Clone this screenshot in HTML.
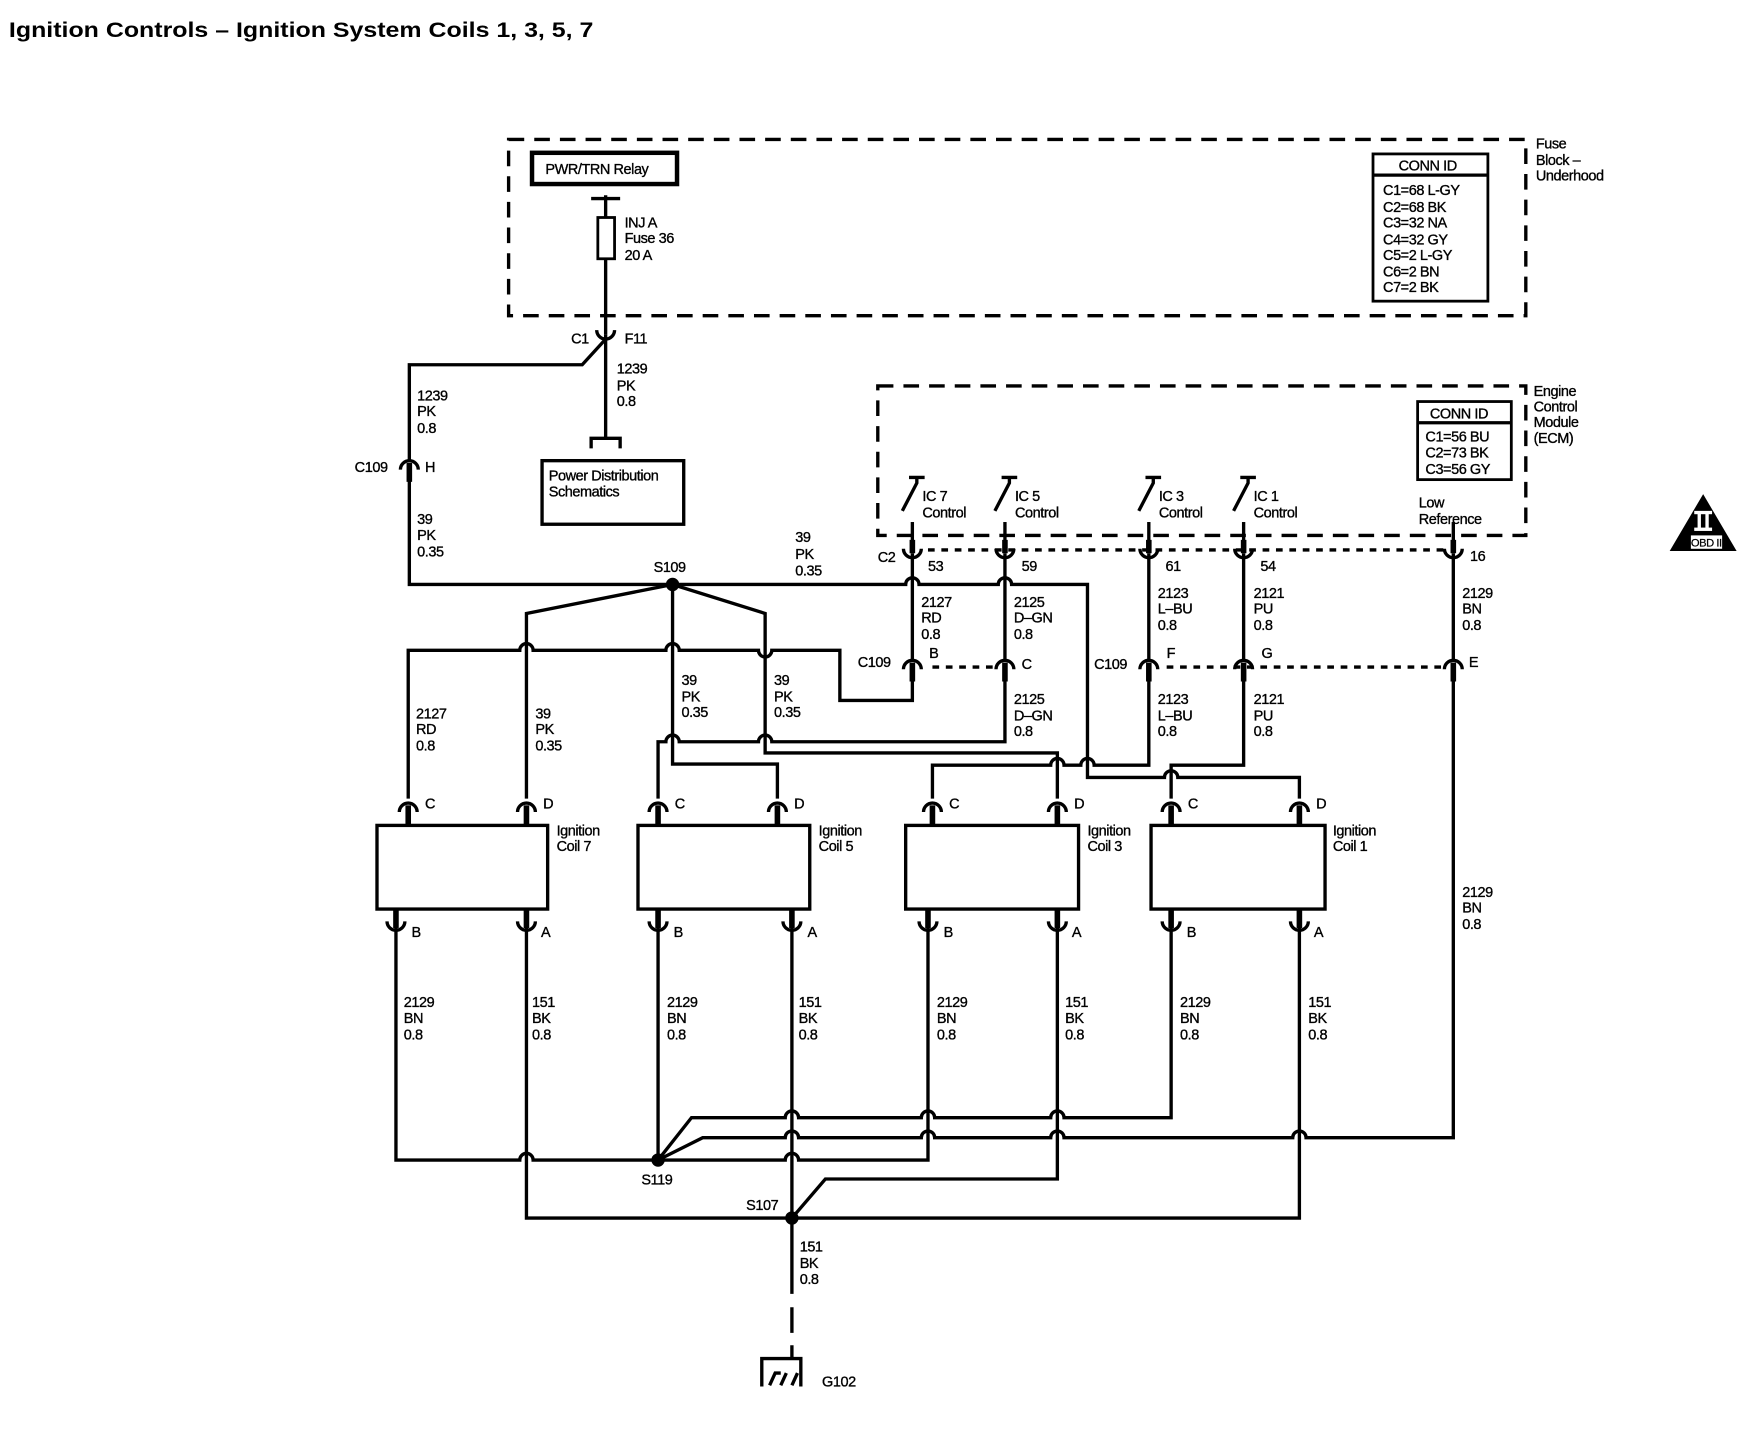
<!DOCTYPE html>
<html><head><meta charset="utf-8"><style>
html,body{margin:0;padding:0;background:#fff}
svg{display:block}
text{font-family:"Liberation Sans",Arial,sans-serif;font-size:13px;fill:#000;stroke:#000;stroke-width:0.3;letter-spacing:-0.4px}
.w{fill:none;stroke:#000;stroke-width:3;stroke-linejoin:miter}
.t{fill:none;stroke:#000;stroke-width:3}
.d{fill:none;stroke:#000;stroke-width:3;stroke-dasharray:14,9}
.o{fill:none;stroke:#000;stroke-width:3;stroke-dasharray:6,6}
</style></head><body>
<svg width="1750" height="1440" viewBox="0 0 1569 1291" preserveAspectRatio="none" xmlns="http://www.w3.org/2000/svg">
<defs>
<g id="cap"><path d="M-8,6 A8,8 0 0 1 8,6" class="t"/><rect x="-2.5" y="0" width="5" height="17"/></g>
<g id="cup"><path d="M-8,-6 A8,8 0 0 0 8,-6" class="t"/><rect x="-2.5" y="-16" width="5" height="16"/></g>
<g id="pin"><path d="M-8,-6 A8,8 0 0 0 8,-6" class="t"/><rect x="-2.5" y="-14" width="5" height="12"/><path d="M0,-30 V-10" class="t"/></g>
<g id="sw"><path d="M-7,0 H7 M0,0 V5 L-13,30" class="t"/></g>
</defs>
<text x="8" y="33" textLength="524" lengthAdjust="spacingAndGlyphs" style="font-size:19px;font-weight:bold;stroke-width:0;letter-spacing:0">Ignition Controls – Ignition System Coils 1, 3, 5, 7</text>

<!-- Fuse block -->
<rect x="456" y="125" width="912" height="158" class="d"/>
<text x="1377" y="133">Fuse</text><text x="1377" y="148">Block –</text><text x="1377" y="162">Underhood</text>
<rect x="477" y="137" width="130" height="28" fill="#fff" stroke="#000" stroke-width="4"/>
<text x="489" y="156">PWR/TRN Relay</text>
<path d="M543,175 V300 M530,178 H556" class="w"/>
<rect x="536" y="195" width="15" height="37" fill="#fff" stroke="#000" stroke-width="2.5"/>
<text x="560" y="204">INJ A</text><text x="560" y="218">Fuse 36</text><text x="560" y="233">20 A</text>
<rect x="1231" y="138" width="103" height="132" fill="#fff" stroke="#000" stroke-width="2.5"/>
<path d="M1231,157 H1334" class="t"/>
<text x="1254" y="153">CONN ID</text>
<text x="1240" y="175">C1=68 L-GY</text><text x="1240" y="190">C2=68 BK</text><text x="1240" y="204">C3=32 NA</text>
<text x="1240" y="219">C4=32 GY</text><text x="1240" y="233">C5=2 L-GY</text><text x="1240" y="248">C6=2 BN</text><text x="1240" y="262">C7=2 BK</text>

<path d="M535,296 A8,8 0 0 0 551,296" class="t"/>
<text x="512" y="308">C1</text><text x="560" y="308">F11</text>
<path d="M543,300 V393 M530,402 V393 H556 V402" class="w"/>
<text x="553" y="335">1239</text><text x="553" y="350">PK</text><text x="553" y="364">0.8</text>
<rect x="486" y="413" width="127" height="57" fill="#fff" stroke="#000" stroke-width="3"/>
<text x="492" y="431">Power Distribution</text><text x="492" y="445">Schematics</text>

<path d="M543,304 L522,327 H367 V413" class="w"/>
<text x="374" y="359">1239</text><text x="374" y="373">PK</text><text x="374" y="388">0.8</text>
<use href="#cap" x="367" y="415"/>
<text x="318" y="423">C109</text><text x="381" y="423">H</text>
<text x="374" y="470">39</text><text x="374" y="484">PK</text><text x="374" y="499">0.35</text>
<path d="M367,430 V524 H812 A6,6 0 0 1 824,524 H895 A6,6 0 0 1 907,524 H975 V697 H1044 A6,6 0 0 1 1056,697 H1165 V716" class="w"/>
<text x="713" y="486">39</text><text x="713" y="501">PK</text><text x="713" y="516">0.35</text>
<circle cx="603" cy="524" r="6"/>
<text x="586" y="513">S109</text>
<path d="M603,524 L472,550 V716 M603,524 L686,550 V675 H948 V716 M603,524 V685 H697 V716" class="w"/>

<!-- ECM -->
<rect x="787" y="346" width="581" height="134" class="d"/>
<text x="1375" y="355">Engine</text><text x="1375" y="369">Control</text><text x="1375" y="383">Module</text><text x="1375" y="397">(ECM)</text>
<rect x="1271" y="360" width="84" height="70" fill="#fff" stroke="#000" stroke-width="2.5"/>
<path d="M1271,379 H1355" class="t"/>
<text x="1282" y="375">CONN ID</text>
<text x="1278" y="396">C1=56 BU</text><text x="1278" y="410">C2=73 BK</text><text x="1278" y="425">C3=56 GY</text>
<use href="#sw" x="822" y="428"/><use href="#sw" x="905" y="428"/><use href="#sw" x="1034" y="428"/><use href="#sw" x="1119" y="428"/>
<text x="827" y="449">IC 7</text><text x="827" y="464">Control</text>
<text x="910" y="449">IC 5</text><text x="910" y="464">Control</text>
<text x="1039" y="449">IC 3</text><text x="1039" y="464">Control</text>
<text x="1124" y="449">IC 1</text><text x="1124" y="464">Control</text>
<text x="1272" y="455">Low</text><text x="1272" y="470">Reference</text>
<use href="#pin" x="818" y="498"/><use href="#pin" x="901" y="498"/><use href="#pin" x="1030" y="498"/><use href="#pin" x="1115" y="498"/><use href="#pin" x="1303" y="498"/>
<path d="M832,493 H1295" class="o"/>
<text x="787" y="504">C2</text><text x="832" y="512">53</text><text x="916" y="512">59</text><text x="1045" y="512">61</text><text x="1130" y="512">54</text><text x="1318" y="503">16</text>

<path d="M818,496 V592 M901,496 V592 M1030,496 V592 M1115,496 V592 M1303,496 V592" class="w"/>
<text x="826" y="544">2127</text><text x="826" y="558">RD</text><text x="826" y="573">0.8</text>
<text x="909" y="544">2125</text><text x="909" y="558">D–GN</text><text x="909" y="573">0.8</text>
<text x="1038" y="536">2123</text><text x="1038" y="550">L–BU</text><text x="1038" y="565">0.8</text>
<text x="1124" y="536">2121</text><text x="1124" y="550">PU</text><text x="1124" y="565">0.8</text>
<text x="1311" y="536">2129</text><text x="1311" y="550">BN</text><text x="1311" y="565">0.8</text>
<use href="#cap" x="818" y="594"/><use href="#cap" x="901" y="594"/><use href="#cap" x="1030" y="594"/><use href="#cap" x="1115" y="594"/><use href="#cap" x="1303" y="594"/>
<path d="M836,598 H892 M1046,598 H1296" class="o"/>
<text x="769" y="598">C109</text><text x="833" y="590">B</text><text x="916" y="600">C</text>
<text x="981" y="600">C109</text><text x="1046" y="590">F</text><text x="1131" y="590">G</text><text x="1317" y="598">E</text>

<path d="M818,606 V628 H753 V583 H692 A6,6 0 0 1 680,583 H609 A6,6 0 0 0 597,583 H478 A6,6 0 0 0 466,583 H366 V716" class="w"/>
<path d="M901,606 V665 H692 A6,6 0 0 0 680,665 H609 A6,6 0 0 0 597,665 H590 V716" class="w"/>
<path d="M1030,606 V686 H981 A6,6 0 0 0 969,686 H954 A6,6 0 0 0 942,686 H836 V716" class="w"/>
<path d="M1115,606 V686 H1050 V716" class="w"/>
<text x="909" y="631">2125</text><text x="909" y="646">D–GN</text><text x="909" y="660">0.8</text>
<text x="1038" y="631">2123</text><text x="1038" y="646">L–BU</text><text x="1038" y="660">0.8</text>
<text x="1124" y="631">2121</text><text x="1124" y="646">PU</text><text x="1124" y="660">0.8</text>
<text x="373" y="644">2127</text><text x="373" y="658">RD</text><text x="373" y="673">0.8</text>
<text x="480" y="644">39</text><text x="480" y="658">PK</text><text x="480" y="673">0.35</text>
<text x="611" y="614">39</text><text x="611" y="629">PK</text><text x="611" y="643">0.35</text>
<text x="694" y="614">39</text><text x="694" y="629">PK</text><text x="694" y="643">0.35</text>

<!-- coils -->
<rect x="338" y="740" width="153" height="75" fill="#fff" stroke="#000" stroke-width="3"/>
<rect x="572" y="740" width="154" height="75" fill="#fff" stroke="#000" stroke-width="3"/>
<rect x="812" y="740" width="155" height="75" fill="#fff" stroke="#000" stroke-width="3"/>
<rect x="1032" y="740" width="156" height="75" fill="#fff" stroke="#000" stroke-width="3"/>
<text x="499" y="749">Ignition</text><text x="499" y="763">Coil 7</text>
<text x="734" y="749">Ignition</text><text x="734" y="763">Coil 5</text>
<text x="975" y="749">Ignition</text><text x="975" y="763">Coil 3</text>
<text x="1195" y="749">Ignition</text><text x="1195" y="763">Coil 1</text>
<use href="#cap" x="366" y="722"/><use href="#cap" x="472" y="722"/><use href="#cap" x="590" y="722"/><use href="#cap" x="697" y="722"/>
<use href="#cap" x="836" y="722"/><use href="#cap" x="948" y="722"/><use href="#cap" x="1050" y="722"/><use href="#cap" x="1165" y="722"/>
<text x="381" y="725">C</text><text x="487" y="725">D</text><text x="605" y="725">C</text><text x="712" y="725">D</text>
<text x="851" y="725">C</text><text x="963" y="725">D</text><text x="1065" y="725">C</text><text x="1180" y="725">D</text>
<use href="#cup" x="355" y="832"/><use href="#cup" x="472" y="832"/><use href="#cup" x="590" y="832"/><use href="#cup" x="710" y="832"/>
<use href="#cup" x="832" y="832"/><use href="#cup" x="948" y="832"/><use href="#cup" x="1050" y="832"/><use href="#cup" x="1165" y="832"/>
<text x="369" y="840">B</text><text x="485" y="840">A</text><text x="604" y="840">B</text><text x="724" y="840">A</text>
<text x="846" y="840">B</text><text x="961" y="840">A</text><text x="1064" y="840">B</text><text x="1178" y="840">A</text>

<text x="362" y="903">2129</text><text x="362" y="917">BN</text><text x="362" y="932">0.8</text>
<text x="477" y="903">151</text><text x="477" y="917">BK</text><text x="477" y="932">0.8</text>
<text x="598" y="903">2129</text><text x="598" y="917">BN</text><text x="598" y="932">0.8</text>
<text x="716" y="903">151</text><text x="716" y="917">BK</text><text x="716" y="932">0.8</text>
<text x="840" y="903">2129</text><text x="840" y="917">BN</text><text x="840" y="932">0.8</text>
<text x="955" y="903">151</text><text x="955" y="917">BK</text><text x="955" y="932">0.8</text>
<text x="1058" y="903">2129</text><text x="1058" y="917">BN</text><text x="1058" y="932">0.8</text>
<text x="1173" y="903">151</text><text x="1173" y="917">BK</text><text x="1173" y="932">0.8</text>
<text x="1311" y="804">2129</text><text x="1311" y="818">BN</text><text x="1311" y="833">0.8</text>

<!-- bottom wiring -->
<path d="M1303,606 V1020 H1171 A6,6 0 0 0 1159,1020 H954 A6,6 0 0 0 942,1020 H838 A6,6 0 0 0 826,1020 H716 A6,6 0 0 0 704,1020 H630 L590,1040" class="w"/>
<path d="M355,830 V1040 H466 A6,6 0 0 1 478,1040 H590" class="w"/>
<path d="M590,830 V1040" class="w"/>
<path d="M832,830 V1040 H716 A6,6 0 0 0 704,1040 H590" class="w"/>
<path d="M1050,830 V1002 H954 A6,6 0 0 0 942,1002 H838 A6,6 0 0 0 826,1002 H716 A6,6 0 0 0 704,1002 H620 L590,1040" class="w"/>
<path d="M472,830 V1092 H1165 V830 M710,830 V1092 M948,830 V1057 H740 L710,1092" class="w"/>
<circle cx="590" cy="1040" r="6"/><circle cx="710" cy="1092" r="6"/>
<text x="575" y="1062">S119</text><text x="669" y="1085">S107</text>
<text x="717" y="1122">151</text><text x="717" y="1137">BK</text><text x="717" y="1151">0.8</text>
<path d="M710,1092 V1160 M710,1172 V1195 M710,1206 V1218 M683,1243 V1218 H718 V1243 M690,1242 L695,1231 H700 M700,1242 L705,1231 M710,1242 L715,1231" class="w"/>
<text x="737" y="1243">G102</text>

<!-- OBD -->
<path d="M1527,443 L1497,494 H1557 Z" fill="#000"/>
<rect x="1516" y="480" width="28" height="12" fill="#fff"/>
<rect x="1519" y="458" width="16" height="3" fill="#fff"/><rect x="1519" y="473" width="16" height="3" fill="#fff"/>
<rect x="1522" y="460" width="3" height="14" fill="#fff"/><rect x="1529" y="460" width="3" height="14" fill="#fff"/>
<text x="1516" y="490" style="font-size:10px;stroke-width:0.2">OBD II</text>
</svg>
</body></html>
